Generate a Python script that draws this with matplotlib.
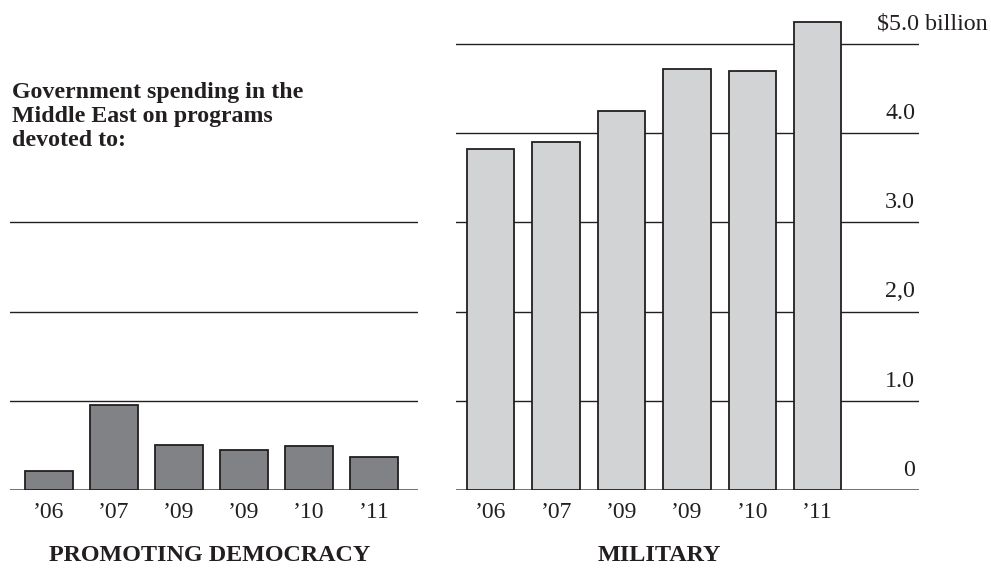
import matplotlib.pyplot as plt
import matplotlib.transforms as mtransforms

plt.rcParams['font.family'] = ['Liberation Serif', 'DejaVu Serif']

# datos (miles de millones de dólares)
years = ["\u201906", "\u201907", "\u201909", "\u201909", "\u201910", "\u201911"]
democracy = [0.21, 0.95, 0.50, 0.45, 0.49, 0.37]
military = [3.82, 3.90, 4.25, 4.72, 4.70, 5.25]
left_grid = [1, 2, 3]
right_grid = [0, 1, 2, 3, 4, 5]
right_labels = ["0", "1.0", "2,0", "3.0", "4.0", "$5.0 billion"]
title_lines = ["Government spending in the", "Middle East on programs", "devoted to:"]

W, H = 991, 568
fig = plt.figure(figsize=(W / 100, H / 100), dpi=100)

line_col = "#231f20"
ymax = 5.4


def px_axes(x0, x1, ybase=490, scale=89.2):
    height = ymax * scale
    return fig.add_axes([x0 / W, (H - ybase) / H, (x1 - x0) / W, height / H])


ax1 = px_axes(10, 418)
ax2 = px_axes(455.7, 919.3)

for ax in (ax1, ax2):
    ax.set_ylim(0, ymax)
    for s in ax.spines.values():
        s.set_visible(False)
    ax.set_yticks([])
    ax.tick_params(axis="x", length=0, pad=9, labelsize=17, labelcolor=line_col)
    ax.axhline(0, color="#58595b", lw=1.2, zorder=1)
    ax.patch.set_alpha(0)

# panel izquierdo
x1 = range(len(democracy))
ax1.bar(x1, democracy, width=0.74, color="#808285", edgecolor=line_col, lw=1.3, zorder=3)
for g in left_grid:
    ax1.axhline(g, color=line_col, lw=1.0, zorder=1)
ax1.set_xlim(-0.6, 5.68)
ax1.set_xticks(list(x1))
ax1.set_xticklabels(years)

# panel derecho
x2 = range(len(military))
ax2.bar(x2, military, width=0.723, color="#d1d3d4", edgecolor=line_col, lw=1.3, zorder=3)
for g in right_grid[1:]:
    ax2.axhline(g, color=line_col, lw=1.0, zorder=1)
ax2.set_xlim(-0.535, 6.553)
ax2.set_xticks(list(x2))
ax2.set_xticklabels(years)

trans = mtransforms.blended_transform_factory(ax2.transAxes, ax2.transData)
for g, lab in zip(right_grid, right_labels):
    if lab.startswith("$"):
        ax2.text(0.909, g + 0.16, lab, transform=trans, ha="left", va="baseline",
                 fontsize=17.3, color=line_col, clip_on=False)
    else:
        ax2.text(0.991, g + 0.16, lab, transform=trans, ha="right", va="baseline",
                 fontsize=17.3, color=line_col, clip_on=False)

for i, t in enumerate(title_lines):
    fig.text(12 / W, 1 - (98 + 24 * i) / H, t, ha="left", va="baseline",
             fontsize=17.2, fontweight="bold", color=line_col)

fig.text(209.5 / W, 1 - 561 / H, "PROMOTING DEMOCRACY", ha="center", va="baseline",
         fontsize=17.4, fontweight="bold", color=line_col)
fig.text(659.5 / W, 1 - 561 / H, "MILITARY", ha="center", va="baseline",
         fontsize=17.4, fontweight="bold", color=line_col)

fig.savefig("out.png", dpi=100)
